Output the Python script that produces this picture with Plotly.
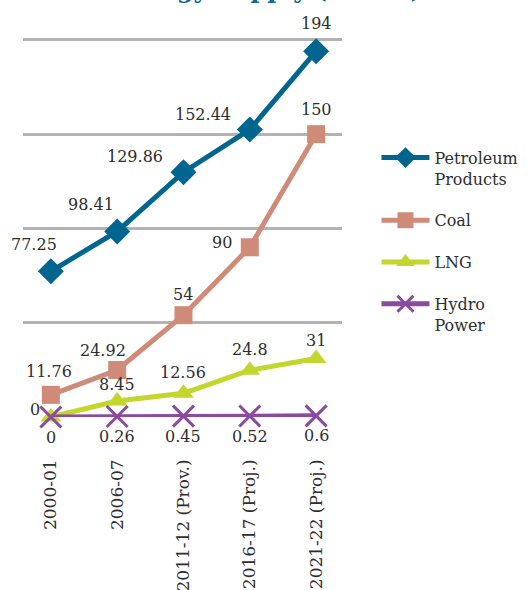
import plotly.graph_objects as go

# Energy supply by source, million tonnes of oil equivalent
years = ["2000-01", "2006-07", "2011-12 (Prov.)", "2016-17 (Proj.)", "2021-22 (Proj.)"]
petroleum = [77.25, 98.41, 129.86, 152.44, 194]
coal = [11.76, 24.92, 54, 90, 150]
lng = [0, 8.45, 12.56, 24.8, 31]
hydro = [0, 0.26, 0.45, 0.52, 0.6]

FONT = "DejaVu Serif"
TEXT = "#2e2e2e"
C_PET = "#00668f"
C_COAL = "#cf8b78"
C_LNG = "#c2d62e"
C_HYD = "#8a4aa0"

xs = list(range(len(years)))

fig = go.Figure()
fig.add_trace(go.Scatter(x=xs, y=petroleum, name="Petroleum<br>Products", mode="lines+markers",
                         line=dict(color=C_PET, width=5), legendgroup="pet",
                         marker=dict(symbol="diamond", size=20, color=C_PET), cliponaxis=False))
fig.add_trace(go.Scatter(x=xs, y=coal, name="Coal", mode="lines+markers",
                         line=dict(color=C_COAL, width=5), legendgroup="coal",
                         marker=dict(symbol="square", size=18, color=C_COAL), cliponaxis=False))
fig.add_trace(go.Scatter(x=xs, y=lng, name="LNG", mode="lines+markers",
                         line=dict(color=C_LNG, width=5), legendgroup="lng",
                         marker=dict(symbol="triangle-up", size=18, color=C_LNG), cliponaxis=False))
fig.add_trace(go.Scatter(x=xs, y=hydro, name="Hydro<br>Power", mode="lines+markers",
                         line=dict(color=C_HYD, width=5), legendgroup="hyd",
                         marker=dict(symbol="x-thin", size=21, color=C_HYD,
                                     line=dict(color=C_HYD, width=3)), cliponaxis=False))

# value labels with per-point offsets (pixels)
pet_off = [(-17, 27), (-26, 27), (-48, 16), (-47, 15), (0, 28)]
coal_off = [(-2, 23), (-14, 20), (0, 21), (-28, 5), (0, 25)]
lng_off = [(-16, 8), (0, 17), (0, 21), (0, 21), (0, 18)]
hyd_off = [(0, -20)] * 5

def fmt(v):
    return f"{v:g}"

for vals, offs in ((petroleum, pet_off), (coal, coal_off), (lng, lng_off), (hydro, hyd_off)):
    for i, (v, (dx, dy)) in enumerate(zip(vals, offs)):
        fig.add_annotation(x=xs[i], y=v, text=fmt(v), showarrow=False,
                           xshift=dx, yshift=dy, font=dict(family=FONT, size=16, color=TEXT))

fig.add_annotation(text="<b>Energy Supply (MTOE)</b>", xref="paper", yref="paper",
                   x=0.765, y=1.085, xanchor="center", yanchor="bottom", showarrow=False,
                   font=dict(family=FONT, size=24, color="#0e6a93"))

fig.update_xaxes(range=[-0.42, 4.39], tickvals=xs, ticktext=years, tickangle=-90,
                 showgrid=False, zeroline=False, showline=False, ticks="", automargin=False,
                 ticklabelstandoff=38, tickfont=dict(family=FONT, size=17, color=TEXT))
fig.update_yaxes(range=[0, 201], tickvals=[0, 50, 100, 150, 200], showticklabels=False,
                 showgrid=True, gridcolor="#b3b3b3", gridwidth=3, zeroline=False,
                 showline=False, ticks="", automargin=False)

fig.update_layout(
    width=528, height=590,
    margin=dict(l=23, r=186, t=38, b=173, autoexpand=False),
    paper_bgcolor="white", plot_bgcolor="white",
    font=dict(family=FONT, size=16, color=TEXT),
    legend=dict(x=1.108, xanchor="left", y=0.729, yanchor="top", valign="top",
                itemwidth=48, tracegroupgap=18, font=dict(family=FONT, size=16, color=TEXT),
                bgcolor="rgba(0,0,0,0)"),
)

fig.write_html("out.html")
